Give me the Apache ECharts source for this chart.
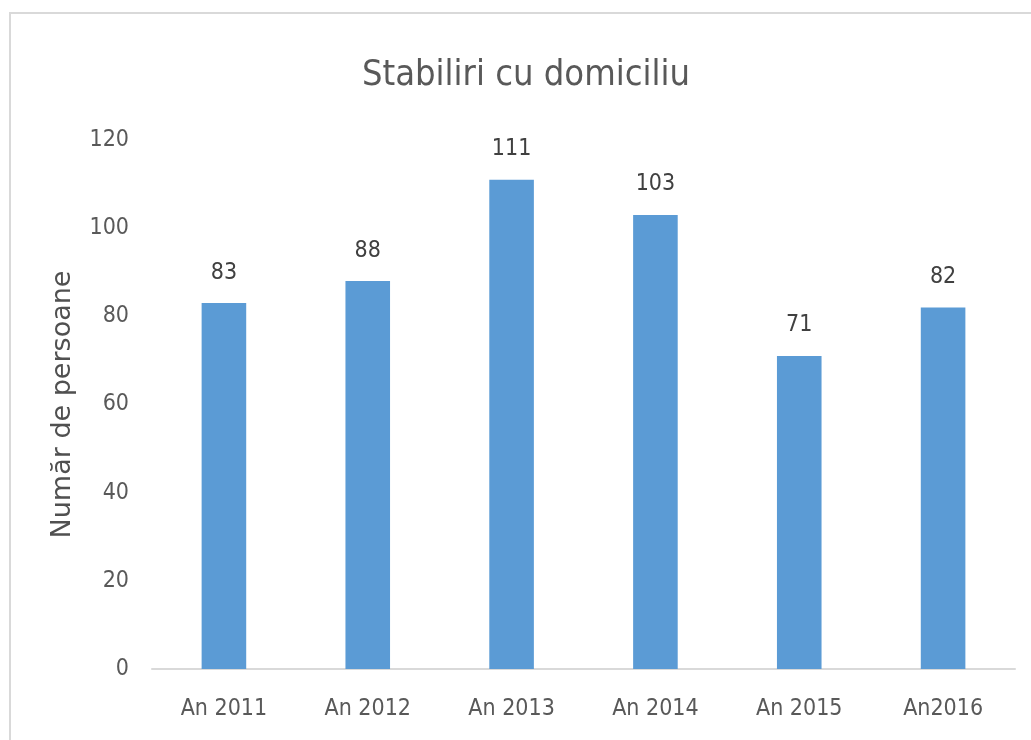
<!DOCTYPE html>
<html>
<head>
<meta charset="utf-8">
<script src="https://cdn.jsdelivr.net/npm/echarts@6/dist/echarts.min.js"></script>
<style>
html,body{margin:0;padding:0;background:#fff;}
#c{width:1031px;height:740px;}
</style>
</head>
<body>
<div id="c"></div>
<script>
const categories = ["An 2011","An 2012","An 2013","An 2014","An 2015","An2016"];
const values = [83, 88, 111, 103, 71, 82];
const titleText = "Stabiliri cu domiciliu";
const yAxisName = "Număr de persoane";

const narrow = '"Liberation Sans Narrow", "DejaVu Sans Condensed", "Open Sans", sans-serif';
const chart = echarts.init(document.getElementById('c'));
chart.setOption({
  animation: false,
  graphic: [{
    type: 'rect',
    shape: {x: 10, y: 13, width: 1100, height: 800},
    style: {fill: 'none', stroke: '#d9d9d9', lineWidth: 2},
    silent: true
  }],
  title: {
    text: titleText,
    left: 526, top: 53,
    textAlign: 'center',
    textStyle: {fontFamily: narrow, fontSize: 36, fontWeight: 'normal', color: '#595959'}
  },
  grid: {left: 152, right: 16, top: 140, bottom: 71, containLabel: false},
  xAxis: {
    type: 'category',
    data: categories,
    axisLine: {lineStyle: {color: '#d9d9d9', width: 2}},
    axisTick: {show: false},
    axisLabel: {fontFamily: narrow, fontSize: 23, color: '#595959', margin: 29}
  },
  yAxis: {
    type: 'value',
    min: 0, max: 120, interval: 20,
    name: yAxisName,
    nameLocation: 'middle',
    nameGap: 76,
    nameTextStyle: {fontFamily: '"DejaVu Sans", sans-serif', fontSize: 27, color: '#505050'},
    axisLine: {show: false},
    axisTick: {show: false},
    splitLine: {show: false},
    axisLabel: {fontFamily: narrow, fontSize: 23, color: '#595959', margin: 23}
  },
  series: [{
    type: 'bar',
    data: values,
    barWidth: '31%',
    itemStyle: {color: '#5b9bd5'},
    label: {show: true, position: 'top', distance: 19, fontFamily: narrow, fontSize: 23, color: '#404040'}
  }]
});
chart.setOption({title: {left: 521}});
</script>
</body>
</html>
